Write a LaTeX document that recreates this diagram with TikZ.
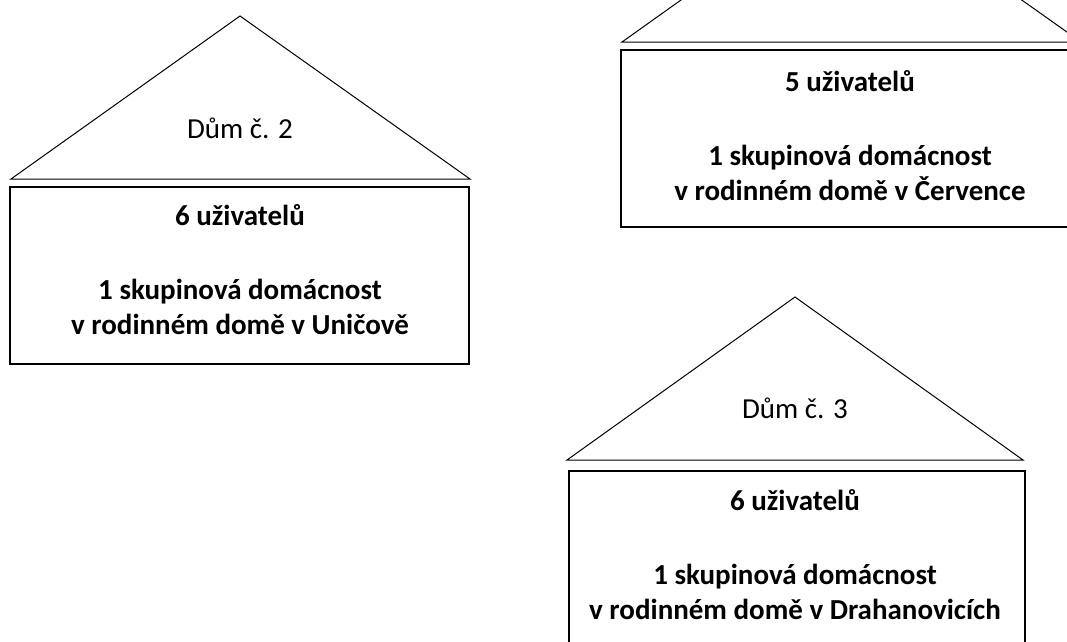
\documentclass[tikz,border=0pt]{standalone}
\usepackage{fontspec}
\setmainfont{Carlito}
\begin{document}
\begin{tikzpicture}[x=1pt,y=-1pt,
  roof/.style={draw=black, line width=1pt, line join=miter},
  wall/.style={draw=black, line width=1.7pt},
  rooftext/.style={font=\fontsize{29}{35}\selectfont, inner sep=0pt},
  walltext/.style={font=\fontsize{29}{35}\selectfont\bfseries, align=center, inner sep=0pt}]
\useasboundingbox (0,0) rectangle (1067,641);
\clip (0,0) rectangle (1067,641);
\fill[white] (0,0) rectangle (1067,641);

% House 1 (top right, partly cut off)
\draw[roof] (622,42) -- (851,-121) -- (1081,42) -- cycle;
\draw[wall] (621,50) rectangle (1080,227);
\node[rooftext] (t1) at (851,-15) {Dům č. 1};
\node[walltext] (b1) at (850,135.5) {5 uživatelů\\[39pt]1 skupinová domácnost\\v rodinném domě v Července};

% House 2 (left)
\draw[roof] (11,179) -- (240,16) -- (470,179) -- cycle;
\draw[wall] (10,187) rectangle (469,364);
\node[rooftext] (t2) at (240,128) {Dům č. 2};
\node[walltext] (b2) at (240,269.5) {6 uživatelů\\[39pt]1 skupinová domácnost\\v rodinném domě v Uničově};

% House 3 (bottom right)
\draw[roof] (567,460) -- (795,297) -- (1023,460) -- cycle;
\draw[wall] (569,471) rectangle (1025,680);
\node[rooftext] (t3) at (795,408) {Dům č. 3};
\node[walltext] (b3) at (795,554.5) {6 uživatelů\\[39pt]1 skupinová domácnost\\v rodinném domě v Drahanovicích};
\end{tikzpicture}
\end{document}
